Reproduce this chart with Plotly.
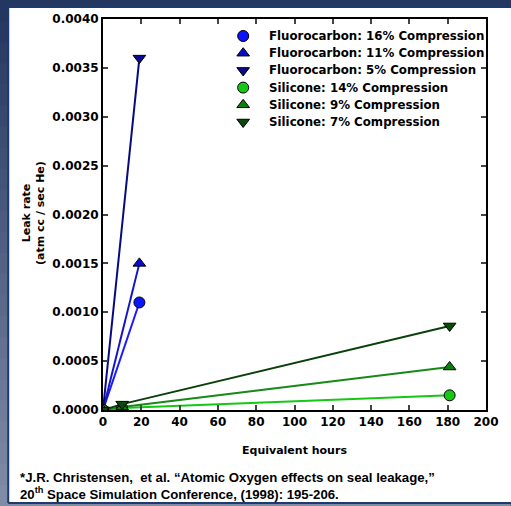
import plotly.graph_objects as go

# ---- data ----
fc16_x = [0, 19]
fc16_y = [0.0, 0.0011]
fc11_x = [0, 19]
fc11_y = [0.0, 0.0015]
fc5_x = [0, 19]
fc5_y = [0.0, 0.0036]
si14_x = [0, 10, 181]
si14_y = [0.0, 0.00002, 0.00015]
si9_x = [0, 10, 181]
si9_y = [0.0, 0.00003, 0.00044]
si7_x = [0, 10, 181]
si7_y = [0.0, 0.00006, 0.00086]

names = ["Fluorocarbon: 16% Compression", "Fluorocarbon: 11% Compression",
         "Fluorocarbon: 5% Compression", "Silicone: 14% Compression",
         "Silicone: 9% Compression", "Silicone: 7% Compression"]
xs = [fc16_x, fc11_x, fc5_x, si14_x, si9_x, si7_x]
ys = [fc16_y, fc11_y, fc5_y, si14_y, si9_y, si7_y]
symbols = ["circle", "triangle-up", "triangle-down", "circle", "triangle-up", "triangle-down"]
mcolors = ["#0a14ff", "#0a0acc", "#0a0a8a", "#14c814", "#0a800a", "#0a4a0a"]
lcolors = ["#1a1aff", "#1414cc", "#0a0a80", "#14c814", "#168a16", "#0a400a"]

W, H = 511, 506
L, R, T, B = 103, 491, 19, 410
WIDE = "DejaVu Sans, Verdana, sans-serif"
HELV = "Liberation Sans, Arial, sans-serif"


def px(p):
    return (p - L) / (R - L)


def py(p):
    return (B - p) / (B - T)


fig = go.Figure()
for x, y, c in zip(xs, ys, lcolors):
    fig.add_trace(go.Scatter(x=x, y=y, mode="lines", line=dict(color=c, width=2),
                             showlegend=False, hoverinfo="skip"))
for x, y, n, s, c in zip(xs, ys, names, symbols, mcolors):
    fig.add_trace(go.Scatter(x=x, y=y, mode="markers", name=n, showlegend=False,
                             marker=dict(symbol=s, color=c, size=11,
                                         line=dict(color="black", width=1))))

# manual legend (pixel-positioned overlay axes)
leg_x0 = 245
leg_y0 = 36
leg_dy = 17.2
leg_xs = [leg_x0] * len(names)
leg_ys = [leg_y0 + i * leg_dy for i in range(len(names))]
fig.add_trace(go.Scatter(x=leg_xs, y=leg_ys, xaxis="x2", yaxis="y2", mode="markers",
                         showlegend=False, hoverinfo="skip",
                         marker=dict(symbol=symbols, color=mcolors, size=11,
                                     line=dict(color="black", width=1))))

shapes = []
top_c = (0x24, 0x37, 0x60)
bot_c = (0x80, 0x8c, 0xa6)
n = 24
for i in range(n):
    t = i / (n - 1)
    col = tuple(int(top_c[k] + (bot_c[k] - top_c[k]) * t) for k in range(3))
    y0 = i * H / n
    y1 = (i + 1) * H / n + 1
    shapes.append(dict(type="rect", xref="paper", yref="paper", layer="below",
                       x0=px(-5), x1=px(W + 5), y0=py(y1), y1=py(y0),
                       fillcolor="rgb(%d,%d,%d)" % col, line=dict(width=0)))
shapes.append(dict(type="rect", xref="paper", yref="paper", layer="below",
                   x0=px(7), x1=px(W + 10), y0=py(503), y1=py(7),
                   fillcolor="white", line=dict(width=0)))
border = "#1c3a6e"
shapes.append(dict(type="line", xref="paper", yref="paper", layer="below",
                   x0=px(7), x1=px(7), y0=py(503), y1=py(7), line=dict(color=border, width=2)))
shapes.append(dict(type="line", xref="paper", yref="paper", layer="below",
                   x0=px(7), x1=px(W + 10), y0=py(7), y1=py(7), line=dict(color=border, width=2)))
shapes.append(dict(type="line", xref="paper", yref="paper", layer="below",
                   x0=px(7), x1=px(W + 10), y0=py(503), y1=py(503), line=dict(color=border, width=2)))

annotations = [
    dict(text="Leak rate<br>(atm cc / sec He)", xref="paper", yref="paper",
         x=px(32), y=py(213), textangle=-90, showarrow=False,
         xanchor="center", yanchor="middle",
         font=dict(size=11, family=WIDE, weight="bold")),
    dict(text="Equivalent hours", xref="paper", yref="paper",
         x=px(297), y=py(450), showarrow=False, xanchor="center", yanchor="middle",
         font=dict(size=11, family=WIDE, weight="bold")),
    dict(text="*J.R. Christensen,  et al. \u201cAtomic Oxygen effects on seal leakage,\u201d",
         xref="paper", yref="paper", x=px(17), y=py(478), showarrow=False,
         xanchor="left", yanchor="middle", font=dict(size=13.2, family=HELV, weight="bold")),
    dict(text="20<sup>th</sup> Space Simulation Conference, (1998): 195-206.",
         xref="paper", yref="paper", x=px(17), y=py(494), showarrow=False,
         xanchor="left", yanchor="middle", font=dict(size=13.2, family=HELV, weight="bold")),
]
for nm, ly in zip(names, leg_ys):
    annotations.append(dict(text=nm, xref="paper", yref="paper", x=px(269), y=py(ly),
                            showarrow=False, xanchor="left", yanchor="middle",
                            font=dict(size=11.8, family=WIDE, weight="bold")))

fig.update_layout(
    width=W, height=H,
    margin=dict(l=L, r=W - R, t=T, b=H - B),
    paper_bgcolor="#2a3d66", plot_bgcolor="white",
    font=dict(family=WIDE, size=12, color="black"),
    shapes=shapes,
    showlegend=False,
    xaxis=dict(range=[0, 200], tickvals=list(range(0, 201, 20)),
               ticks="inside", ticklen=5, tickwidth=1.5, mirror="ticks",
               showline=True, linecolor="black", linewidth=2, showgrid=False, zeroline=False,
               tickfont=dict(size=12, family=WIDE, weight="bold")),
    yaxis=dict(range=[0, 0.004], tickvals=[0, 0.0005, 0.001, 0.0015, 0.002, 0.0025, 0.003, 0.0035, 0.004],
               tickformat=".4f",
               ticks="inside", ticklen=5, tickwidth=1.5, mirror="ticks",
               showline=True, linecolor="black", linewidth=2, showgrid=False, zeroline=False,
               tickfont=dict(size=12, family=WIDE, weight="bold")),
    xaxis2=dict(overlaying="x", range=[L, R], visible=False, fixedrange=True),
    yaxis2=dict(overlaying="y", range=[B, T], visible=False, fixedrange=True),
    annotations=annotations,
)

fig.write_html("out.html")
